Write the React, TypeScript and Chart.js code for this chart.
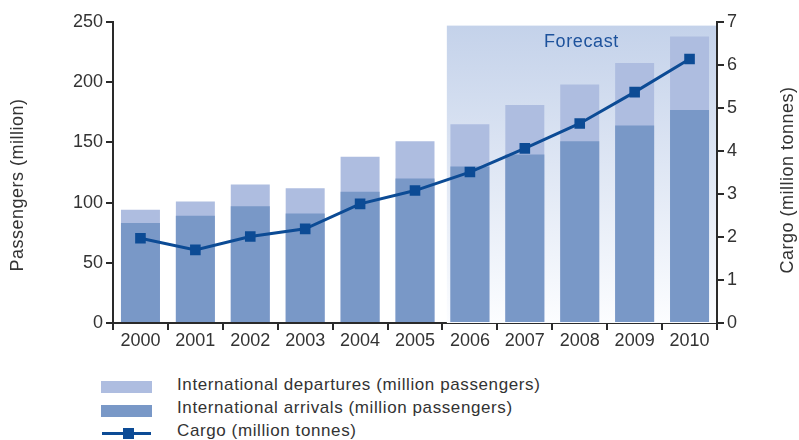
import React, { useEffect, useRef } from "react";
import { Chart, registerables } from "chart.js";

Chart.register(...registerables);

const years = ["2000", "2001", "2002", "2003", "2004", "2005", "2006", "2007", "2008", "2009", "2010"];
const departures = [94, 101, 115, 112, 138, 151, 165, 181, 198, 216, 238];
const arrivals = [83, 89, 97, 91, 109, 120, 130, 140, 151, 164, 177];
const cargo = [1.97, 1.7, 2.01, 2.19, 2.77, 3.08, 3.51, 4.06, 4.64, 5.37, 6.14];
const passengerTicks = [0, 50, 100, 150, 200, 250];
const cargoTicks = [0, 1, 2, 3, 4, 5, 6, 7];
const forecastFrom = 6;
const forecastLabel = "Forecast";
const leftTitle = "Passengers (million)";
const rightTitle = "Cargo (million tonnes)";
const legendDeparturesLabel = "International departures (million passengers)";
const legendArrivalsLabel = "International arrivals (million passengers)";
const legendCargoLabel = "Cargo (million tonnes)";

const FONT = "'Liberation Sans', Arial, sans-serif";
const TEXT = "#333333";
const AXIS = "#2a2a2a";
const DEP_COLOR = "#aebde0";
const ARR_COLOR = "#7998c7";
const LINE_COLOR = "#0c4b95";

const forecastPlugin = {
  id: "forecastShade",
  beforeDatasetsDraw(chart: any) {
    const { ctx, chartArea, scales } = chart;
    const x = scales.x;
    const y = scales.y;
    const step = x.getPixelForValue(forecastFrom) - x.getPixelForValue(forecastFrom - 1);
    const left = x.getPixelForValue(forecastFrom) - step * 0.42;
    const top = y.getPixelForValue(247);
    const right = chartArea.right - 1;
    const bottom = chartArea.bottom;
    ctx.save();
    const g = ctx.createLinearGradient(0, top, 0, bottom);
    g.addColorStop(0, "rgb(196,210,234)");
    g.addColorStop(1, "rgb(252,253,255)");
    ctx.fillStyle = g;
    ctx.fillRect(left, top, right - left, bottom - top);
    ctx.fillStyle = "#1d529c";
    ctx.font = `18px ${FONT}`;
    (ctx as any).letterSpacing = "0.6px";
    ctx.textAlign = "center";
    ctx.textBaseline = "middle";
    ctx.fillText(forecastLabel, (left + right) / 2, top + 16);
    ctx.restore();
  },
  afterDraw(chart: any) {
    const { ctx } = chart;
    ctx.save();
    ctx.fillStyle = TEXT;
    ctx.font = `18px ${FONT}`;
    (ctx as any).letterSpacing = "0.5px";
    ctx.textAlign = "center";
    ctx.textBaseline = "middle";
    ctx.save();
    ctx.translate(18, 185);
    ctx.rotate(-Math.PI / 2);
    ctx.fillText(leftTitle, 0, 0);
    ctx.restore();
    ctx.save();
    ctx.translate(788, 180);
    ctx.rotate(-Math.PI / 2);
    ctx.fillText(rightTitle, 0, 0);
    ctx.restore();
    ctx.restore();
  },
};

export default function App() {
  const ref = useRef<HTMLCanvasElement | null>(null);

  useEffect(() => {
    if (!ref.current) return;
    const chart = new Chart(ref.current, {
      type: "bar",
      data: {
        labels: years,
        datasets: [
          {
            type: "line",
            label: legendCargoLabel,
            data: cargo,
            yAxisID: "y2",
            borderColor: LINE_COLOR,
            backgroundColor: LINE_COLOR,
            borderWidth: 3,
            pointStyle: "rect",
            pointRadius: 7.5,
            pointBorderWidth: 0,
            pointBackgroundColor: LINE_COLOR,
            tension: 0,
            order: 0,
          } as any,
          {
            type: "bar",
            label: legendArrivalsLabel,
            data: arrivals,
            yAxisID: "y",
            backgroundColor: ARR_COLOR,
            grouped: false,
            barPercentage: 0.71,
            categoryPercentage: 1,
            order: 1,
          } as any,
          {
            type: "bar",
            label: legendDeparturesLabel,
            data: departures,
            yAxisID: "y",
            backgroundColor: DEP_COLOR,
            grouped: false,
            barPercentage: 0.71,
            categoryPercentage: 1,
            order: 2,
          } as any,
        ],
      },
      options: {
        responsive: false,
        animation: false,
        layout: { padding: { top: 22, left: 0, right: 0, bottom: 0 } },
        plugins: { legend: { display: false }, tooltip: { enabled: false } },
        scales: {
          x: {
            type: "category",
            offset: true,
            grid: { display: true, drawOnChartArea: false, offset: true, tickLength: 7, lineWidth: 2, color: AXIS },
            border: { display: true, color: AXIS, width: 2 },
            ticks: { color: TEXT, font: { family: FONT, size: 18 }, padding: 0, maxRotation: 0 },
            afterFit: (s: any) => {
              s.height = 37;
            },
          },
          y: {
            type: "linear",
            position: "left",
            min: 0,
            max: 250,
            afterBuildTicks: (s: any) => {
              s.ticks = passengerTicks.map((v) => ({ value: v }));
            },
            grid: { display: true, drawOnChartArea: false, tickLength: 7, lineWidth: 2, color: AXIS },
            border: { display: true, color: AXIS, width: 2 },
            ticks: { color: TEXT, font: { family: FONT, size: 18 }, padding: 3 },
            afterFit: (s: any) => {
              s.width = 113;
            },
          },
          y2: {
            type: "linear",
            position: "right",
            min: 0,
            max: 7,
            afterBuildTicks: (s: any) => {
              s.ticks = cargoTicks.map((v) => ({ value: v }));
            },
            grid: { display: true, drawOnChartArea: false, tickLength: 7, lineWidth: 2, color: AXIS },
            border: { display: true, color: AXIS, width: 2 },
            ticks: { color: TEXT, font: { family: FONT, size: 18 }, padding: 3 },
            afterFit: (s: any) => {
              s.width = 82;
            },
          },
        },
      },
      plugins: [forecastPlugin],
    });
    return () => chart.destroy();
  }, []);

  const legendText: React.CSSProperties = {
    position: "absolute",
    left: 177,
    fontFamily: FONT,
    fontSize: 17,
    letterSpacing: "0.6px",
    color: TEXT,
    lineHeight: "18px",
    whiteSpace: "nowrap",
  };

  return (
    <div style={{ position: "absolute", left: 0, top: 0, width: 799, height: 440, background: "#fff" }}>
      <canvas ref={ref} width={799} height={360} style={{ display: "block", width: 799, height: 360 }} />
      <div style={{ position: "absolute", left: 101, top: 381, width: 51, height: 12, background: DEP_COLOR }} />
      <div style={{ ...legendText, top: 376 }}>{legendDeparturesLabel}</div>
      <div style={{ position: "absolute", left: 101, top: 405, width: 51, height: 12, background: ARR_COLOR }} />
      <div style={{ ...legendText, top: 399 }}>{legendArrivalsLabel}</div>
      <div style={{ position: "absolute", left: 102, top: 432, width: 49, height: 3, background: LINE_COLOR }} />
      <div style={{ position: "absolute", left: 123, top: 428, width: 11, height: 11, background: LINE_COLOR }} />
      <div style={{ ...legendText, top: 422 }}>{legendCargoLabel}</div>
    </div>
  );
}
